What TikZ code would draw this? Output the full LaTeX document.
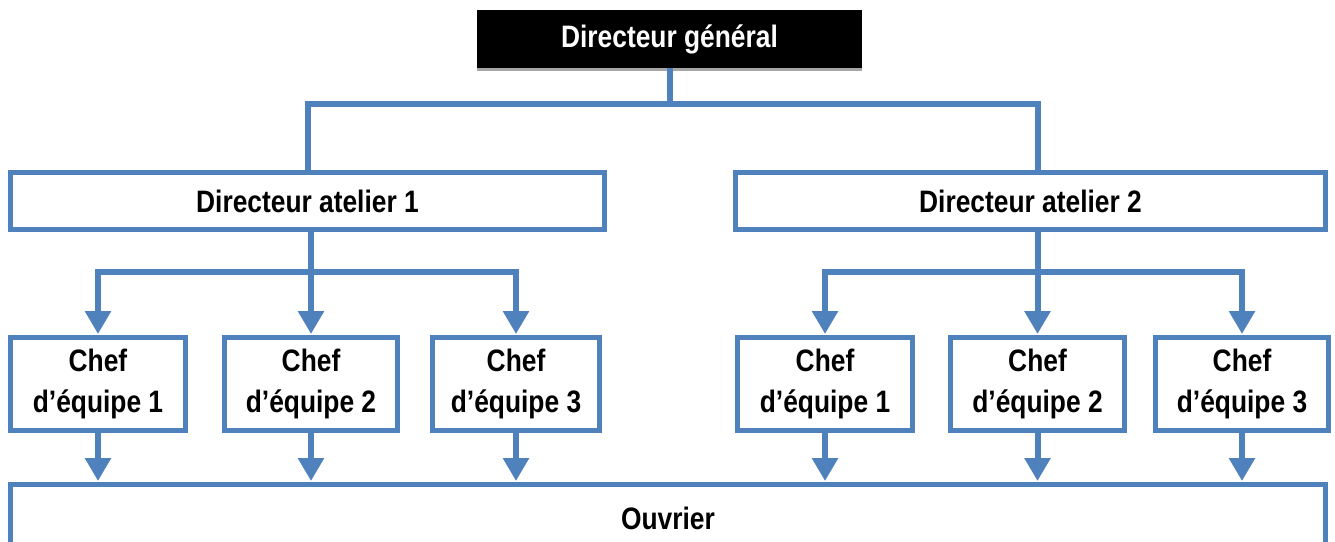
\documentclass[tikz,border=0pt]{standalone}
\usepackage{fontspec}
\setmainfont{Liberation Sans}[FakeStretch=0.85]
\usetikzlibrary{arrows.meta,calc}
\definecolor{orgblue}{HTML}{4F81BD}
\begin{document}
\begin{tikzpicture}[x=1pt,y=-1pt,
  lbl/.style={font=\bfseries\fontsize{31}{41}\selectfont, align=center, inner sep=0pt},
  unitbox/.style={lbl, draw=orgblue, line width=5pt, fill=white},
  conn/.style={draw=orgblue, line width=6pt},
  arr/.style={conn, -{Triangle[width=25pt,length=23pt]}, shorten >=1pt}]
\useasboundingbox (0,0) rectangle (1335,541);
\fill[white] (0,0) rectangle (1335,541);

% general manager, with a thin grey shadow under it
\fill[black!35] (477,67) rectangle (862,71);
\node[lbl, fill=black, text=white, minimum width=385pt, minimum height=58pt] (dg) at (669.5,39) {Directeur général};

% workshop directors
\node[unitbox, minimum width=594pt, minimum height=57pt] (da1) at (307.5,201) {Directeur atelier 1};
\node[unitbox, minimum width=590pt, minimum height=57pt] (da2) at (1030.5,201) {Directeur atelier 2};

% team leaders
\foreach \n/\x/\w/\k in {c11/98/175/1, c12/311/173/2, c13/516/167/3,
                         c21/825/175/1, c22/1037.5/174/2, c23/1242/173/3}
  \node[unitbox, minimum width=\w pt, minimum height=93pt] (\n) at (\x,384) {Chef\\d’équipe \k};

% workers
\node[unitbox, minimum width=1315pt, minimum height=67pt] (ouv) at (668,518) {Ouvrier};

% bus lines
\coordinate (bus0) at (0,104);
\coordinate (bus1) at (0,272);

\draw[conn] (dg.south) -- (dg.south |- bus0);
\draw[conn, line join=miter] (da1.north) -- (da1.north |- bus0) -- (c22 |- bus0) -- (c22 |- da2.north);

\draw[arr] (c12 |- da1.south) -- (c12.north);
\draw[arr, line join=miter] (c12 |- bus1) -| (c11.north);
\draw[arr, line join=miter] (c12 |- bus1) -| (c13.north);

\draw[arr] (c22 |- da2.south) -- (c22.north);
\draw[arr, line join=miter] (c22 |- bus1) -| (c21.north);
\draw[arr, line join=miter] (c22 |- bus1) -| (c23.north);

\foreach \n in {c11,c12,c13,c21,c22,c23}
  \draw[arr] (\n.south) -- (\n.south |- ouv.north);
\end{tikzpicture}
\end{document}
